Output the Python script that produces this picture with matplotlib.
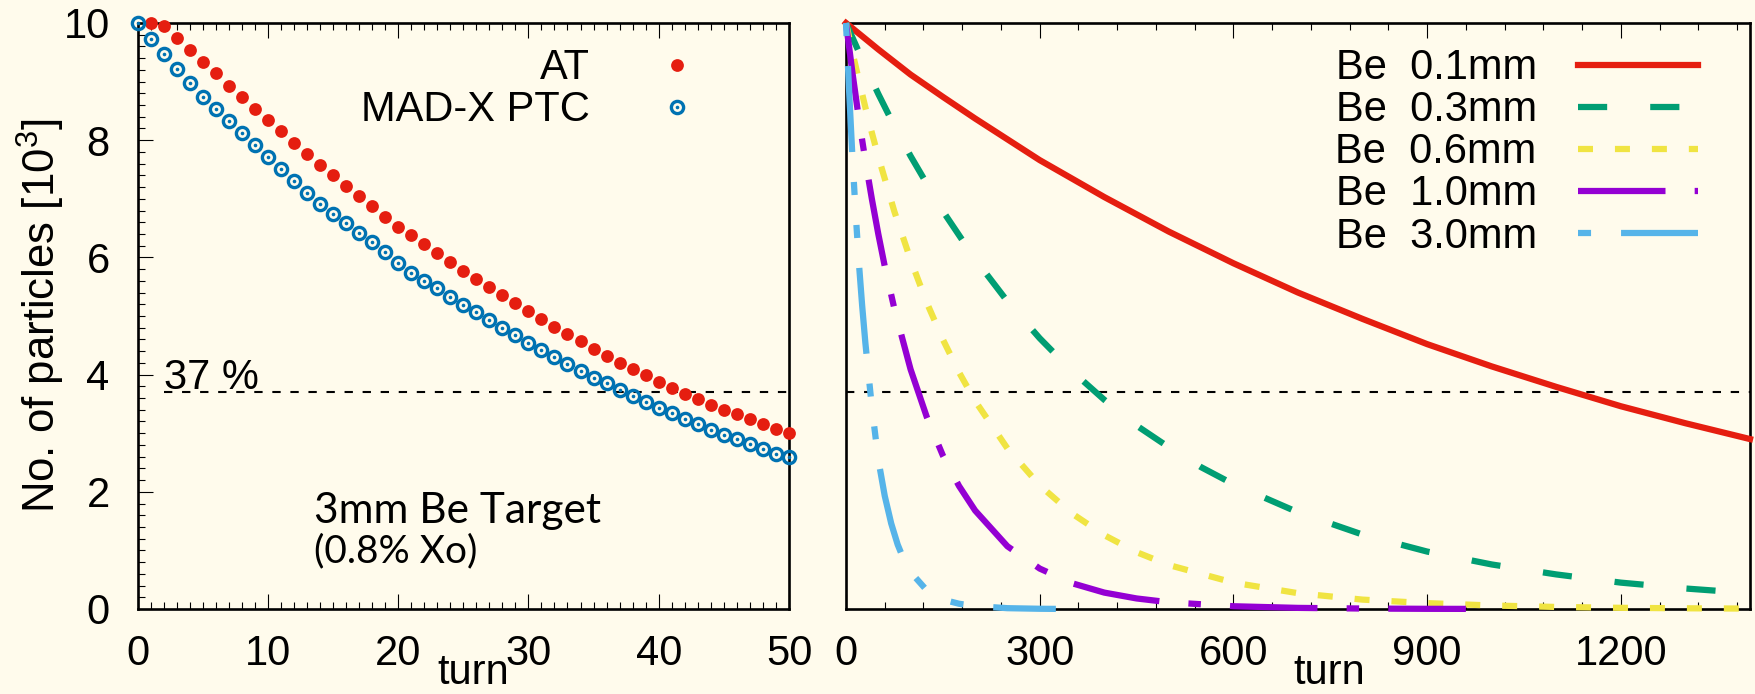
import matplotlib
matplotlib.use('Agg')
import matplotlib.pyplot as plt
from matplotlib.ticker import MultipleLocator
from matplotlib.legend_handler import HandlerTuple

# ---- left panel: 3mm Be target, AT vs MAD-X PTC (units of 10^3 particles)
turn_at = list(range(1, 51))
at_vals = [10.00, 9.95, 9.75, 9.54, 9.33, 9.14, 8.93, 8.73, 8.54, 8.34,
           8.15, 7.95, 7.76, 7.58, 7.40, 7.22, 7.05, 6.87, 6.69, 6.52,
           6.38, 6.23, 6.08, 5.93, 5.77, 5.63, 5.49, 5.35, 5.22, 5.09,
           4.95, 4.82, 4.69, 4.57, 4.44, 4.32, 4.20, 4.09, 3.99, 3.87,
           3.77, 3.67, 3.58, 3.48, 3.40, 3.32, 3.24, 3.15, 3.07, 3.00]
turn_ptc = list(range(0, 51))
ptc_vals = [10.00, 9.72, 9.47, 9.21, 8.97, 8.74, 8.53, 8.32, 8.12, 7.91,
            7.72, 7.51, 7.30, 7.10, 6.91, 6.74, 6.58, 6.42, 6.26, 6.09,
            5.91, 5.74, 5.60, 5.47, 5.33, 5.19, 5.06, 4.94, 4.80, 4.68,
            4.54, 4.42, 4.30, 4.18, 4.06, 3.94, 3.85, 3.74, 3.63, 3.54,
            3.43, 3.34, 3.24, 3.15, 3.05, 2.97, 2.90, 2.81, 2.73, 2.65, 2.59]

# ---- right panel: different Be thicknesses
labels_be = ['Be  0.1mm', 'Be  0.3mm', 'Be  0.6mm', 'Be  1.0mm', 'Be  3.0mm']
turn_01 = [0, 50, 100, 150, 200, 300, 400, 500, 600, 700, 800, 900, 1000, 1100, 1200, 1300, 1400]
vals_01 = [10.0, 9.55, 9.12, 8.74, 8.37, 7.66, 7.03, 6.44, 5.90, 5.40, 4.95, 4.52, 4.14, 3.79, 3.46, 3.17, 2.90]
turn_03 = [0, 25, 50, 75, 100, 150, 200, 250, 300, 350, 400, 450, 500, 550, 600, 700, 800, 900, 1000, 1100, 1200, 1300, 1400]
vals_03 = [10.0, 9.38, 8.79, 8.24, 7.73, 6.79, 5.97, 5.25, 4.62, 4.06, 3.57, 3.13, 2.76, 2.42, 2.13, 1.65, 1.27, 0.98, 0.76, 0.59, 0.45, 0.35, 0.27]
turn_06 = [0, 10, 20, 30, 40, 50, 75, 100, 125, 150, 175, 200, 250, 300, 350, 400, 450, 500, 600, 700, 800, 900, 1000, 1100, 1200, 1300, 1400]
vals_06 = [10.0, 9.50, 9.02, 8.56, 8.13, 7.72, 6.78, 5.96, 5.23, 4.60, 4.04, 3.55, 2.74, 2.11, 1.63, 1.26, 0.97, 0.75, 0.45, 0.27, 0.16, 0.10, 0.06, 0.035, 0.02, 0.012, 0.007]
turn_10 = [0, 10, 20, 30, 40, 50, 60, 75, 100, 125, 150, 175, 200, 250, 300, 350, 400, 450, 500, 600, 700, 800, 900, 960]
vals_10 = [10.0, 9.15, 8.36, 7.65, 7.00, 6.40, 5.85, 5.12, 4.09, 3.28, 2.62, 2.10, 1.68, 1.07, 0.69, 0.44, 0.28, 0.18, 0.115, 0.047, 0.019, 0.008, 0.003, 0.002]
turn_30 = [0, 5, 10, 15, 20, 25, 30, 40, 50, 60, 70, 80, 90, 100, 125, 150, 175, 200, 250, 300, 325]
vals_30 = [10.0, 8.8, 7.7, 6.75, 5.9, 5.18, 4.54, 3.45, 2.55, 1.93, 1.46, 1.10, 0.83, 0.63, 0.32, 0.16, 0.09, 0.05, 0.014, 0.004, 0.002]
level_37 = 3.7

plt.rcParams['font.family'] = ['Liberation Sans', 'DejaVu Sans']
plt.rcParams['mathtext.default'] = 'regular'
plt.rcParams['lines.scale_dashes'] = False
fs = 30

bg = '#fffbec'
red = '#e51e10'
blue = '#0072b2'
colors_be = ['#e51e10', '#009e73', '#f0e442', '#9400d3', '#56b4e9']
dashes_be = ['-', (0, (21, 31)), (0, (10.8, 15.8)), (0, (63, 21, 9, 21)),
             (0, (9.4, 21.6, 62, 21.6, 9.4, 21.6))]

fig = plt.figure(figsize=(17.56, 6.94), dpi=100, facecolor=bg)
ax1 = fig.add_axes([137.5 / 1756, 85 / 694, 651.5 / 1756, 586 / 694])
ax2 = fig.add_axes([846 / 1756, 85 / 694, 904 / 1756, 586 / 694])

for ax in (ax1, ax2):
    ax.set_facecolor(bg)
    for sp in ax.spines.values():
        sp.set_linewidth(1.9)
    ax.set_ylim(0, 10)
    ax.tick_params(axis='x', which='both', direction='in', top=True, bottom=True,
                   labelsize=fs, pad=18)
    ax.tick_params(which='major', length=10.8, width=0.8)
    ax.tick_params(which='minor', length=5.2, width=0.8)

# left panel
ax1.hlines(level_37, 2, 50, color='black', lw=1.5, ls=(0, (6, 7)), zorder=1)
at_h, = ax1.plot(turn_at, at_vals, 'o', color=red, ms=9.2, mew=0, ls='none',
                 clip_on=False, zorder=4)
ring, = ax1.plot(turn_ptc, ptc_vals, 'o', mfc='none', mec=blue, ms=8.8, mew=2.4,
                 ls='none', clip_on=False, zorder=5)
dot, = ax1.plot(turn_ptc, ptc_vals, 'o', color=blue, ms=2.6, mew=0, ls='none',
                clip_on=False, zorder=5)
ax1.set_xlim(0, 50)
ax1.xaxis.set_major_locator(MultipleLocator(10))
ax1.xaxis.set_minor_locator(MultipleLocator(1))
ax1.yaxis.set_major_locator(MultipleLocator(2))
ax1.yaxis.set_minor_locator(MultipleLocator(0.2))
ax1.tick_params(axis='y', which='both', direction='in', left=True, right=False,
                labelsize=fs, pad=20)
ax1.set_ylabel('No. of particles [10$^3$]', fontsize=31.5)
ax1.yaxis.set_label_coords(-0.108, 0.5)
ax1.set_xlabel('turn', fontsize=fs)
ax1.xaxis.set_label_coords(0.515, -0.075)
ax1.text(2.0, level_37 + 0.05, '37 %', fontsize=fs, va='baseline', ha='left')
ax1.text(0.271, 0.147, '3mm Be Target', transform=ax1.transAxes, fontsize=30.5,
         family='Lato', va='baseline', ha='left')
ax1.text(0.271, 0.080, '(0.8% Xo)', transform=ax1.transAxes, fontsize=28,
         family='Lato', va='baseline', ha='left')
ax1.legend([at_h, (ring, dot)], ['AT', 'MAD-X PTC'], loc='upper right',
           bbox_to_anchor=(0.892, 0.957), frameon=False, fontsize=fs,
           markerfirst=False, numpoints=1, handlelength=2.0, handletextpad=1.1,
           borderpad=0, borderaxespad=0, labelspacing=0.05,
           handler_map={tuple: HandlerTuple(ndivide=1)})

# right panel
ax2.axhline(level_37, color='black', lw=1.5, ls=(0, (6, 7)), zorder=1)
series = [(turn_01, vals_01), (turn_03, vals_03), (turn_06, vals_06),
          (turn_10, vals_10), (turn_30, vals_30)]
for (tx, ty), lab, c, d in zip(series, labels_be, colors_be, dashes_be):
    ax2.plot(tx, ty, color=c, lw=4.5, ls=d, label=lab, clip_on=False, zorder=3)
ax2.set_xlim(0, 1400)
ax2.xaxis.set_major_locator(MultipleLocator(300))
ax2.xaxis.set_minor_locator(MultipleLocator(60))
ax2.set_yticks([])
ax2.set_xlabel('turn', fontsize=fs)
ax2.xaxis.set_label_coords(0.535, -0.075)
ax2.legend(loc='upper right', bbox_to_anchor=(0.942, 0.957), frameon=False,
           fontsize=fs, markerfirst=False, handlelength=2.88, handletextpad=0.98,
           borderpad=0, borderaxespad=0, labelspacing=0.05)

fig.savefig('out.png', dpi=100, facecolor=bg)
